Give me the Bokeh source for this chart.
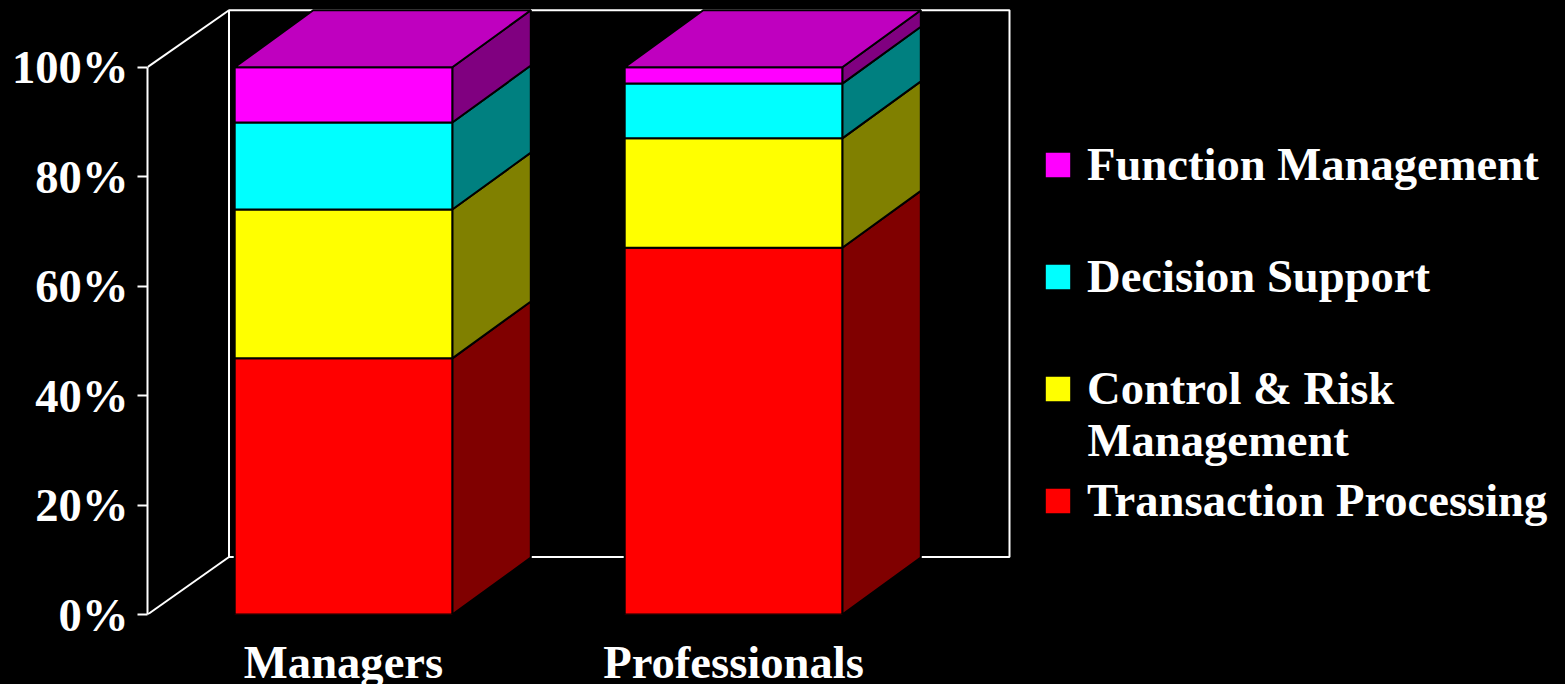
from bokeh.embed import file_html
from bokeh.models import FixedTicker, Label, Legend, LegendItem, Range1d
from bokeh.plotting import figure
from bokeh.resources import INLINE

categories = ["Managers", "Professionals"]
series_names = ["Transaction Processing", "Control & Risk", "Decision Support", "Function Management"]
wrapped_line = "Management"
transaction = [46.8, 67.0]
control = [27.2, 20.0]
decision = [15.9, 10.0]
function_mgmt = [10.1, 3.0]
stack = [transaction, control, decision, function_mgmt]

front_colors = ["#FF0000", "#FFFF00", "#00FFFF", "#FF00FF"]
side_colors = ["#800000", "#808000", "#008080", "#800080"]
top_color = "#BF00BF"
y_ticks = [0, 20, 40, 60, 80, 100]

FONT = "Liberation Serif"
FONT_SIZE = "46.6px"
WIDTH, HEIGHT = 1565, 684
LEFT, BOTTOM = 147, 70

# Scales: one category slot spans 390 px, 100% spans 547.3 px
SLOT = 390.0
UNIT = 5.473
FIRST_BAR_PX = 343.0
x_start = (LEFT - FIRST_BAR_PX) / SLOT
x_end = (WIDTH - FIRST_BAR_PX) / SLOT
y_end = (HEIGHT - BOTTOM) / UNIT

bar_w = 217.6 / SLOT
depth_x = 78.5 / SLOT
depth_y = 10.4
wall_x0 = x_start + 81.5 / SLOT
wall_x1 = (1009 - FIRST_BAR_PX) / SLOT
wall_y0 = 10.5
wall_y1 = 110.4

p = figure(
    width=WIDTH, height=HEIGHT,
    x_range=Range1d(x_start, x_end), y_range=Range1d(0, y_end),
    output_backend="svg", toolbar_location=None,
    background_fill_color="black", border_fill_color="black",
    min_border_left=LEFT, min_border_bottom=BOTTOM, min_border_right=0, min_border_top=0,
    outline_line_color=None,
    styles={"background-color": "black"},
)
p.frame_width = WIDTH - LEFT
p.frame_height = HEIGHT - BOTTOM
p.grid.visible = False

# Back wall and the two slanted edges that join it to the value axis
p.line([wall_x0, wall_x0, wall_x1, wall_x1, wall_x0],
       [wall_y0, wall_y1, wall_y1, wall_y0, wall_y0], line_color="white", line_width=2)
p.line([x_start, wall_x0], [0, wall_y0], line_color="white", line_width=2)
p.line([x_start, wall_x0], [100, wall_y1], line_color="white", line_width=2)

# Stacked bars: front faces, right-hand side faces, and a lid on each column
legend_items = []
base = [0.0] * len(categories)
for values, name, front, side in zip(stack, series_names, front_colors, side_colors):
    tops = [b + v for b, v in zip(base, values)]
    xs, ys = [], []
    for i, (b, t) in enumerate(zip(base, tops)):
        r = i + bar_w / 2
        xs.append([r, r + depth_x, r + depth_x, r])
        ys.append([b, b + depth_y, t + depth_y, t])
    p.patches(xs, ys, fill_color=side, line_color="black", line_width=2)
    front_bar = p.quad(left=[i - bar_w / 2 for i in range(len(categories))],
                       right=[i + bar_w / 2 for i in range(len(categories))],
                       bottom=base, top=tops,
                       fill_color=front, line_color="black", line_width=2)
    legend_items.append(LegendItem(label=name, renderers=[front_bar]))
    base = tops

lid_xs, lid_ys = [], []
for i, t in enumerate(base):
    l, r = i - bar_w / 2, i + bar_w / 2
    lid_xs.append([l, r, r + depth_x, l + depth_x])
    lid_ys.append([t, t, t + depth_y, t + depth_y])
p.patches(lid_xs, lid_ys, fill_color=top_color, line_color="black", line_width=2)

# Value axis
ya = p.yaxis[0]
ya.bounds = (0, 100)
ya.ticker = FixedTicker(ticks=y_ticks)
ya.major_label_overrides = {t: f"{t}%" for t in y_ticks}
ya.axis_line_color = "white"
ya.axis_line_width = 2
ya.major_tick_line_color = "white"
ya.major_tick_line_width = 2
ya.major_tick_out = 10
ya.major_tick_in = 0
ya.minor_tick_line_color = None
ya.major_label_standoff = 9
ya.major_label_text_color = "white"
ya.major_label_text_font = FONT
ya.major_label_text_font_style = "bold"
ya.major_label_text_font_size = FONT_SIZE

# Category axis
xa = p.xaxis[0]
xa.ticker = FixedTicker(ticks=list(range(len(categories))))
xa.major_label_overrides = {i: c for i, c in enumerate(categories)}
xa.axis_line_color = None
xa.major_tick_line_color = None
xa.minor_tick_line_color = None
xa.major_label_standoff = 15
xa.major_label_text_color = "white"
xa.major_label_text_font = FONT
xa.major_label_text_font_style = "bold"
xa.major_label_text_font_size = FONT_SIZE

legend = Legend(
    items=legend_items[::-1],
    location=(1041 - LEFT, 87),
    background_fill_alpha=0, border_line_color=None,
    padding=0, margin=0, spacing=58,
    glyph_width=33, glyph_height=33, label_height=33, label_standoff=13,
    label_text_color="white", label_text_font=FONT,
    label_text_font_style="bold", label_text_font_size=FONT_SIZE,
)
p.add_layout(legend, "center")

# Second line of the wrapped legend entry
p.add_layout(Label(x=(1087 - FIRST_BAR_PX) / SLOT, y=(HEIGHT - BOTTOM - 439) / UNIT,
                   text=wrapped_line, text_align="left", text_baseline="middle",
                   text_color="white", text_font=FONT, text_font_style="bold",
                   text_font_size=FONT_SIZE))

open("out.html", "w").write(file_html(p, INLINE))
